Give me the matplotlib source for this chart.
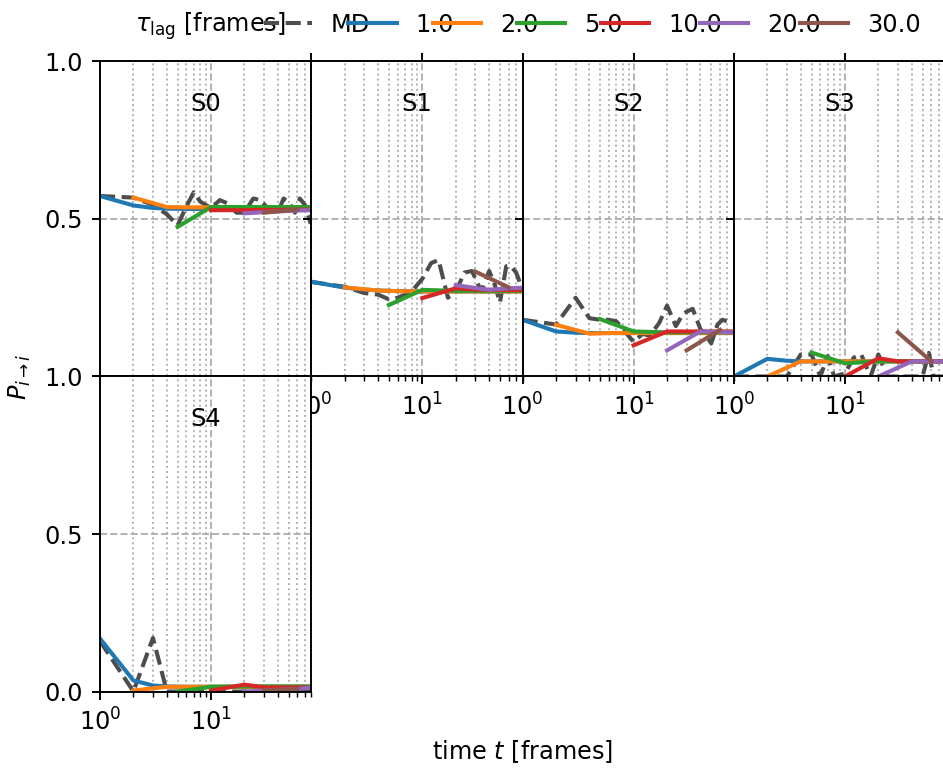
import matplotlib
matplotlib.use("Agg")
import matplotlib.pyplot as plt
from matplotlib.lines import Line2D

# state labels and lag times
states = ["S0", "S1", "S2", "S3", "S4"]
lags = [1.0, 2.0, 5.0, 10.0, 20.0, 30.0]

# MD estimate (one row per state)
t_md = [1, 2, 3, 4, 5, 6, 7, 8, 10, 12, 14, 17, 20, 24, 28, 34, 40, 45, 50, 57, 63, 70, 79]
md_vals = [
    [0.573, 0.568, 0.545, 0.515, 0.48, 0.54, 0.585, 0.555, 0.535, 0.56, 0.55, 0.52,
     0.52, 0.565, 0.56, 0.525, 0.52, 0.565, 0.555, 0.52, 0.565, 0.545, 0.485],
    [0.30, 0.285, 0.265, 0.26, 0.245, 0.25, 0.26, 0.27, 0.31, 0.36, 0.37, 0.25,
     0.27, 0.33, 0.335, 0.27, 0.335, 0.29, 0.235, 0.35, 0.35, 0.33, 0.28],
    [0.18, 0.165, 0.25, 0.185, 0.18, 0.18, 0.175, 0.15, 0.11, 0.135, 0.13, 0.17,
     0.225, 0.16, 0.2, 0.215, 0.15, 0.13, 0.105, 0.165, 0.18, 0.175, 0.17],
    [0.0, 0.0, 0.0, 0.07, 0.07, 0.0, 0.065, 0.0, 0.01, 0.06, 0.07, 0.0,
     0.07, 0.0, 0.0, 0.0, 0.0, 0.0, 0.0, 0.075, 0.0, 0.0, 0.0],
    [0.16, 0.0, 0.17, 0.0, 0.0, 0.0, 0.0, 0.0, 0.0, 0.0, 0.0, 0.0,
     0.0, 0.0, 0.0, 0.0, 0.0, 0.0, 0.0, 0.0, 0.0, 0.0, 0.0],
]

# MSM predictions for each lag time (one row per state)
t_lag1 = [1, 2, 3, 4, 6, 10, 20, 40, 80]
p_lag1 = [
    [0.573, 0.543, 0.535, 0.533, 0.532, 0.532, 0.532, 0.532, 0.532],
    [0.301, 0.282, 0.276, 0.273, 0.271, 0.27, 0.27, 0.27, 0.27],
    [0.18, 0.143, 0.139, 0.138, 0.138, 0.138, 0.138, 0.138, 0.138],
    [0.0, 0.056, 0.05, 0.048, 0.048, 0.048, 0.048, 0.048, 0.048],
    [0.168, 0.035, 0.019, 0.016, 0.015, 0.015, 0.015, 0.015, 0.015],
]
t_lag2 = [2, 4, 6, 10, 20, 40, 80]
p_lag2 = [
    [0.568, 0.538, 0.537, 0.537, 0.537, 0.537, 0.537],
    [0.283, 0.273, 0.271, 0.27, 0.27, 0.27, 0.27],
    [0.164, 0.136, 0.138, 0.138, 0.138, 0.138, 0.138],
    [0.0, 0.048, 0.048, 0.048, 0.048, 0.048, 0.048],
    [0.003, 0.015, 0.015, 0.015, 0.015, 0.015, 0.015],
]
t_lag5 = [5, 10, 20, 40, 80]
p_lag5 = [
    [0.475, 0.538, 0.538, 0.538, 0.538],
    [0.227, 0.275, 0.272, 0.272, 0.272],
    [0.182, 0.143, 0.14, 0.14, 0.14],
    [0.076, 0.042, 0.048, 0.048, 0.048],
    [0.0, 0.015, 0.016, 0.016, 0.016],
]
t_lag10 = [10, 20, 30, 40, 60, 80]
p_lag10 = [
    [0.528, 0.528, 0.529, 0.529, 0.53, 0.53],
    [0.249, 0.28, 0.276, 0.275, 0.275, 0.275],
    [0.099, 0.143, 0.143, 0.143, 0.143, 0.143],
    [0.0, 0.058, 0.048, 0.048, 0.048, 0.048],
    [0.003, 0.022, 0.013, 0.013, 0.013, 0.013],
]
t_lag20 = [20, 40, 60, 80]
p_lag20 = [
    [0.518, 0.524, 0.527, 0.528],
    [0.29, 0.275, 0.28, 0.282],
    [0.083, 0.143, 0.141, 0.14],
    [0.0, 0.048, 0.048, 0.048],
    [0.0, 0.005, 0.008, 0.013],
]
t_lag30 = [30, 60]
p_lag30 = [
    [0.52, 0.53],
    [0.333, 0.283],
    [0.083, 0.148],
    [0.14, 0.048],
    [0.003, 0.008],
]

lag_times = [t_lag1, t_lag2, t_lag5, t_lag10, t_lag20, t_lag30]
lag_vals = [p_lag1, p_lag2, p_lag5, p_lag10, p_lag20, p_lag30]
colors = ["tab:blue", "tab:orange", "tab:green", "tab:red", "tab:purple", "tab:brown"]

W, H = 943, 769
DPI = 173
fig = plt.figure(figsize=(W / DPI, H / DPI), dpi=DPI)

# panel geometry in pixels
left0, pw = 100, 211.3
row_top = [61.5, 376.5]
ph = 315
positions = [(0, 0), (0, 1), (0, 2), (0, 3), (1, 0)]

axes = []
for k, (r, c) in enumerate(positions):
    x0 = (left0 + c * pw) / W
    y0 = 1 - (row_top[r] + ph) / H
    ax = fig.add_axes([x0, y0, pw / W, ph / H])
    axes.append(ax)

    ax.plot(t_md, md_vals[k], "--", color="0.3", lw=1.7, label="MD")
    for j in range(len(lags)):
        ax.plot(lag_times[j], lag_vals[j][k], color=colors[j], lw=1.7, label=str(lags[j]))

    ax.set_xscale("log")
    ax.set_xlim(1, 80)
    ax.set_ylim(0, 1)
    ax.set_yticks([0, 0.5, 1.0])
    ax.grid(True, which="major", linestyle="--")
    ax.grid(True, which="minor", axis="x", linestyle=":")
    ax.text(0.5, 0.865, states[k], transform=ax.transAxes, ha="center", va="center")

    if c > 0:
        ax.set_yticklabels([])
        ax.tick_params(axis="x", which="major", top=True)
    if k == 0:
        # sits above S4, so its lower labels stay hidden
        ax.set_yticklabels(["", "0.5", "1.0"])
        ax.tick_params(axis="x", which="both", labelbottom=False)

# legend with title as first entry
handles, labels = axes[0].get_legend_handles_labels()
blank = Line2D([], [], color="none")
fig.legend([blank] + handles, [r"$\tau_{\rm lag}$ [frames]"] + labels,
           ncol=8, frameon=False, columnspacing=-0.9,
           loc="center", bbox_to_anchor=(494 / W, 1 - 26 / H))

fig.text(522.5 / W, 1 - 752 / H, "time $t$ [frames]", ha="center", va="center")
fig.text(20 / W, 1 - 376.5 / H, r"$P_{i\rightarrow i}$", rotation=90, ha="center", va="center")

fig.savefig("out.png", dpi=DPI)
